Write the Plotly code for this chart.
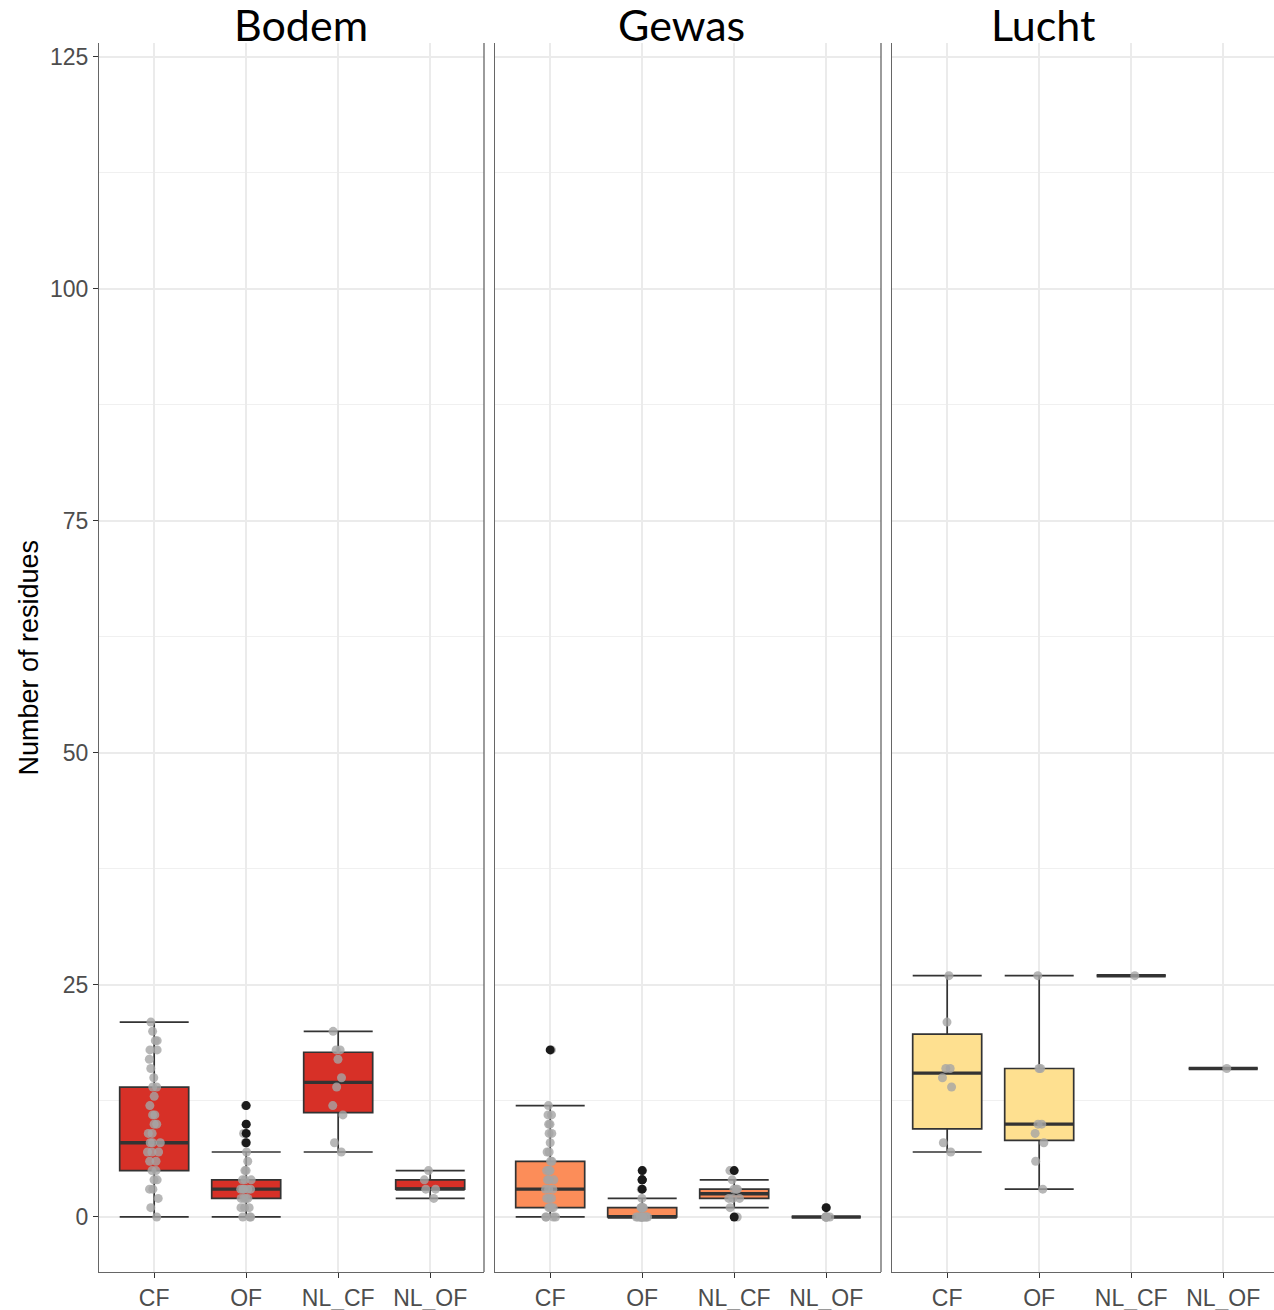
import plotly.graph_objects as go

# Categories and panels
categories = ["CF", "OF", "NL_CF", "NL_OF"]
panels = ["Bodem", "Gewas", "Lucht"]

# Box statistics per panel (lower whisker, Q1, median, Q3, upper whisker)
bodem_lo = [0, 0, 7, 2]
bodem_q1 = [5, 2, 11.25, 3]
bodem_med = [8, 3, 14.5, 3]
bodem_q3 = [14, 4, 17.75, 4]
bodem_hi = [21, 7, 20, 5]

gewas_lo = [0, 0, 1, 0]
gewas_q1 = [1, 0, 2, 0]
gewas_med = [3, 0, 2.5, 0]
gewas_q3 = [6, 1, 3, 0]
gewas_hi = [12, 2, 4, 0]

lucht_lo = [7, 3, 26, 16]
lucht_q1 = [9.5, 8.25, 26, 16]
lucht_med = [15.5, 10, 26, 16]
lucht_q3 = [19.7, 16, 26, 16]
lucht_hi = [26, 26, 26, 16]

# Individual observations (number of residues per sample)
bodem_cf = [0, 1, 2, 3, 3, 4, 4, 5, 5, 6, 6, 7, 7, 7, 8, 8, 8, 9, 9, 10, 10, 11, 11,
            12, 13, 14, 14, 15, 16, 17, 18, 18, 19, 19, 20, 21]
bodem_of = [0, 0, 0, 1, 1, 1, 2, 2, 2, 2, 3, 3, 3, 3, 3, 4, 4, 4, 5, 5, 6, 7, 8, 9, 10, 12]
bodem_nl_cf = [7, 8, 11, 12, 14, 15, 17, 18, 18, 20]
bodem_nl_of = [2, 3, 3, 4, 5]

gewas_cf = [0, 0, 0, 0, 1, 1, 1, 1, 2, 2, 2, 3, 3, 3, 4, 4, 4, 5, 5, 5, 6, 6, 7, 7, 8,
            9, 9, 10, 10, 11, 11, 12, 18]
gewas_of = [0, 0, 0, 0, 0, 0, 0, 0, 0, 0, 0, 1, 1, 1, 1, 1, 2, 3, 4, 4, 5]
gewas_nl_cf = [0, 1, 2, 2, 2, 3, 3, 3, 4, 5]
gewas_nl_of = [0, 0, 0, 0, 0, 0, 1]

lucht_cf = [7, 8, 14, 15, 16, 16, 21, 26]
lucht_of = [3, 6, 8, 9, 10, 10, 16, 16, 26]
lucht_nl_cf = [26]
lucht_nl_of = [16]

fill_colors = ["#D73027", "#FC8D59", "#FEE090"]

stats = [
    (bodem_lo, bodem_q1, bodem_med, bodem_q3, bodem_hi),
    (gewas_lo, gewas_q1, gewas_med, gewas_q3, gewas_hi),
    (lucht_lo, lucht_q1, lucht_med, lucht_q3, lucht_hi),
]
observations = [
    [bodem_cf, bodem_of, bodem_nl_cf, bodem_nl_of],
    [gewas_cf, gewas_of, gewas_nl_cf, gewas_nl_of],
    [lucht_cf, lucht_of, lucht_nl_cf, lucht_nl_of],
]

W, H = 1274, 1310
BOX_W = 0.75
LINE = "#333333"
AXIS_LINE = "#666666"
GRID = "#EBEBEB"
TICK_TXT = "#4D4D4D"

# panel extents in pixels (left, right)
panel_px = [(99, 484), (495, 881), (892, 1274)]
y_top_px, y_bot_px = 43, 1272

fig = go.Figure()

for p, name in enumerate(panels):
    xa = "x" if p == 0 else f"x{p + 1}"
    ya = "y" if p == 0 else f"y{p + 1}"
    lo, q1, med, q3, hi = stats[p]

    # boxes with whiskers
    fig.add_trace(go.Box(
        x=categories, q1=q1, median=med, q3=q3, lowerfence=lo, upperfence=hi,
        width=BOX_W, whiskerwidth=1, fillcolor=fill_colors[p],
        line=dict(color=LINE, width=1.7), boxpoints=False,
        xaxis=xa, yaxis=ya, showlegend=False, hoverinfo="skip",
    ))
    # thicker median bar
    fig.add_trace(go.Box(
        x=categories, q1=med, median=med, q3=med, lowerfence=med, upperfence=med,
        width=BOX_W, whiskerwidth=1, fillcolor=LINE,
        line=dict(color=LINE, width=3.4), boxpoints=False,
        xaxis=xa, yaxis=ya, showlegend=False, hoverinfo="skip",
    ))

    # outliers beyond the whiskers
    out_x, out_y = [], []
    for c, cat in enumerate(categories):
        for v in observations[p][c]:
            if v < lo[c] or v > hi[c]:
                out_x.append(cat)
                out_y.append(v)
    fig.add_trace(go.Scatter(
        x=out_x, y=out_y, mode="markers",
        marker=dict(color="#1A1A1A", size=9),
        xaxis=xa, yaxis=ya, showlegend=False, hoverinfo="skip",
    ))

    # jittered observations on top
    for c, cat in enumerate(categories):
        vals = observations[p][c]
        fig.add_trace(go.Box(
            x=[cat] * len(vals), y=vals, width=BOX_W,
            boxpoints="all", jitter=0.2, pointpos=0,
            fillcolor="rgba(0,0,0,0)", line=dict(width=0, color="rgba(0,0,0,0)"),
            marker=dict(color="rgba(165,165,165,0.8)", size=9, line=dict(width=0)),
            xaxis=xa, yaxis=ya, showlegend=False, hoverinfo="skip",
        ))

# axes
y_dom = [1 - y_bot_px / H, 1 - y_top_px / H]
y_range = [-5.93, 126.5]
layout = dict(
    width=W, height=H,
    margin=dict(l=0, r=0, t=0, b=0),
    paper_bgcolor="white", plot_bgcolor="white",
    boxmode="overlay",
    font=dict(family="Liberation Sans, Arial, sans-serif", color=TICK_TXT),
)
for p in range(3):
    left, right = panel_px[p]
    xr = [-0.6, -0.6 + (right - left) / 92.0]
    xkey = "xaxis" if p == 0 else f"xaxis{p + 1}"
    ykey = "yaxis" if p == 0 else f"yaxis{p + 1}"
    layout[xkey] = dict(
        domain=[left / W, min(right / W, 1.0)], range=xr,
        type="category", categoryorder="array", categoryarray=categories,
        anchor="y" if p == 0 else f"y{p + 1}",
        showline=True, linecolor=AXIS_LINE, linewidth=1.3,
        showgrid=True, gridcolor=GRID, gridwidth=1.5,
        ticks="outside", ticklen=5, tickcolor=LINE, tickwidth=1.3,
        tickfont=dict(size=23, color=TICK_TXT), zeroline=False,
    )
    layout[ykey] = dict(
        domain=y_dom, range=y_range,
        anchor="x" if p == 0 else f"x{p + 1}",
        tickvals=[0, 25, 50, 75, 100, 125],
        showticklabels=(p == 0),
        ticks="outside" if p == 0 else "", ticklen=5, tickcolor=LINE, tickwidth=1.3,
        tickfont=dict(size=23, color=TICK_TXT),
        showline=True, linecolor=AXIS_LINE, linewidth=1.3,
        showgrid=True, gridcolor=GRID, gridwidth=1.5, zeroline=False,
        minor=dict(tickvals=[12.5, 37.5, 62.5, 87.5, 112.5], showgrid=True,
                   gridcolor="#F0F0F0", gridwidth=1.2, ticks=""),
    )
fig.update_layout(**layout)

# right-hand panel borders
for p in range(2):
    xref = "x domain" if p == 0 else f"x{p + 1} domain"
    yref = "y domain" if p == 0 else f"y{p + 1} domain"
    fig.add_shape(type="line", xref=xref, yref=yref, x0=1, x1=1, y0=0, y1=1,
                  line=dict(color=AXIS_LINE, width=1.3))

# panel titles
title_x_px = [301, 682, 1043]
for p, name in enumerate(panels):
    fig.add_annotation(
        text=name, x=title_x_px[p] / W, y=1 - 24 / H, xref="paper", yref="paper",
        xanchor="center", yanchor="middle", showarrow=False,
        font=dict(family="Lato, Open Sans, sans-serif", size=43, color="black"),
    )

# y-axis title
fig.add_annotation(
    text="Number of residues", x=28 / W, y=(y_dom[0] + y_dom[1]) / 2,
    xref="paper", yref="paper", xanchor="center", yanchor="middle",
    textangle=-90, showarrow=False,
    font=dict(family="Liberation Sans, Arial, sans-serif", size=27, color="black"),
)

fig.write_html("out.html")
